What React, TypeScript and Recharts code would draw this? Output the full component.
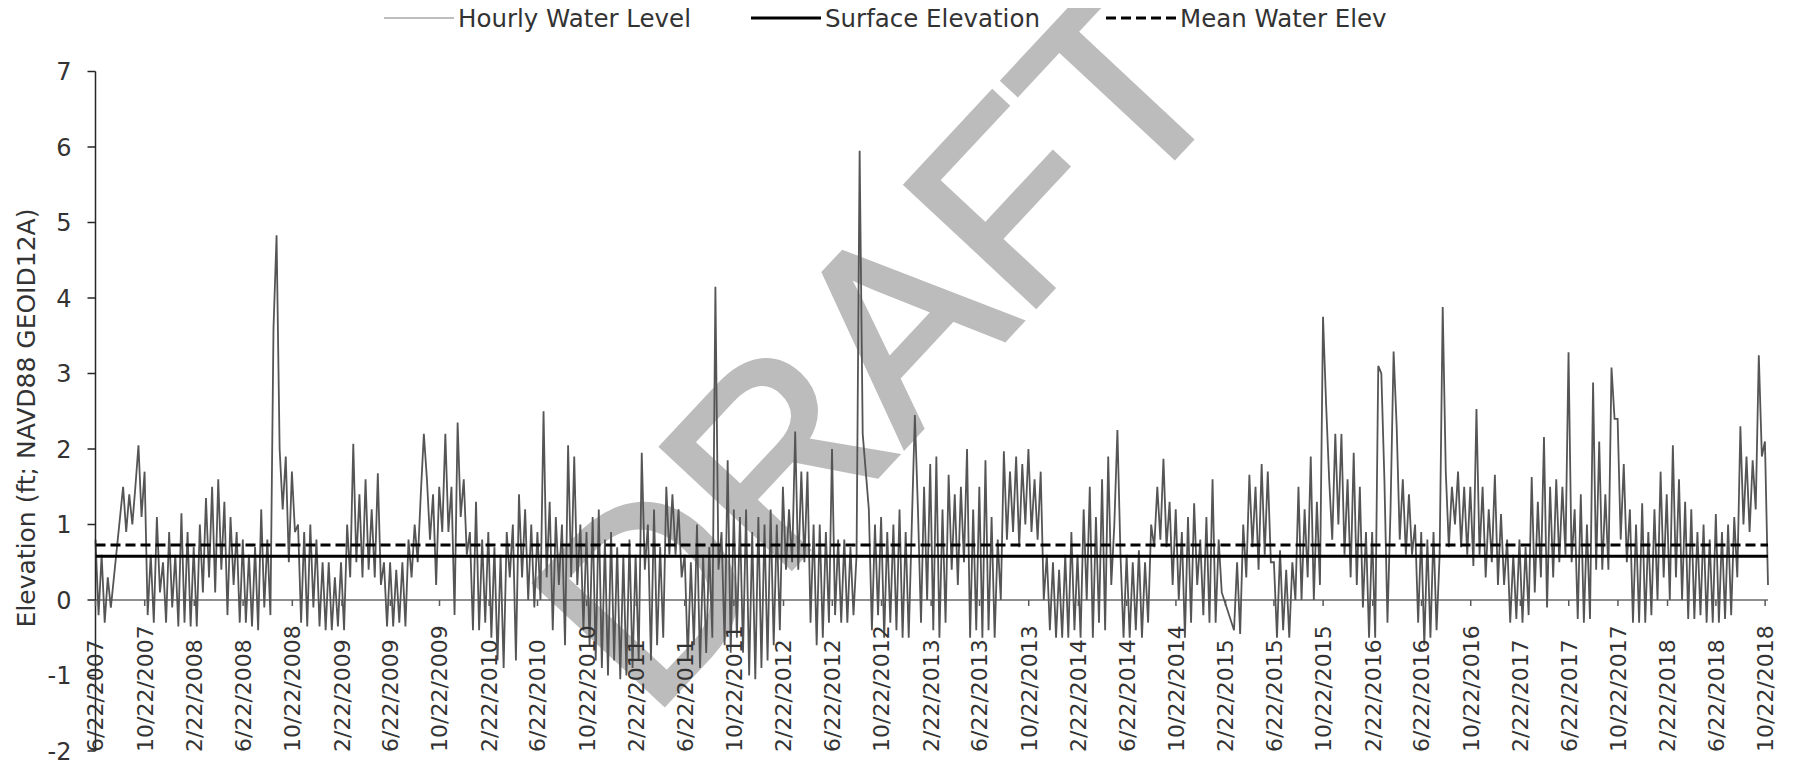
import { LineChart, Line, XAxis, YAxis, ReferenceLine, Customized } from "recharts";

// hourly water level: 4 samples per month starting 6/22/2007
// (null = no record; the line is drawn straight across those gaps)
const level2007 = [
  0.8, -0.2, 0.6, -0.3, 0.3, -0.1, null, null, null, 1.5, 0.9, 1.4,
  1.0, 1.5, 2.05, 1.1, 1.7, -0.2, 0.6, -0.3, 1.1, 0.1, 0.5, -0.3,
  0.9, -0.1, 0.6, -0.35, 1.15, -0.3, 0.9, -0.35, 0.7, -0.35, 1.0, 0.1,
  1.35, 0.3, 1.5, 0.1, 1.6, 0.4, 1.3, -0.2, 1.1, 0.2, 0.9, -0.3,
];
const level2008 = [
  0.8, -0.3, 0.6, -0.35, 0.7, -0.4, 1.2, -0.1, 0.8, -0.2, 3.6, 4.83,
  2.0, 1.2, 1.9, 0.5, 1.7, 0.9, 1.0, -0.3, 0.9, -0.35, 1.0, -0.1,
  0.8, -0.35, 0.5, -0.4, 0.5, -0.4, 0.3, -0.35, 0.5, -0.4, 1.0, 0.3,
  2.07, 0.5, 1.4, 0.3, 1.6, 0.4, 1.2, 0.3, 1.68, 0.2, 0.5, -0.35,
];
const level2009 = [
  0.5, -0.35, 0.4, -0.3, 0.5, -0.35, 0.8, 0.3, 1.0, 0.5, 1.4, 2.2,
  1.6, 0.8, 1.4, 0.2, 1.5, 0.9, 2.2, 0.9, 1.5, -0.2, 2.35, 1.1,
  1.6, 0.6, 0.9, -0.4, 1.3, -0.4, 0.8, -0.3, 0.9, -0.5, 0.7, -0.8,
  0.6, -0.9, 0.9, 0.3, 1.0, -0.8, 1.4, 0.3, 1.2, 0.0, 1.0, -0.1,
];
const level2010 = [
  0.9, 0.0, 2.5, 0.3, 1.3, -0.4, 1.1, 0.2, 1.0, -0.6, 2.05, 0.3,
  1.9, 0.2, 1.0, -0.4, 0.9, -0.6, 1.1, -0.8, 1.2, -0.9, 0.8, -1.0,
  0.9, -0.8, 0.7, -1.05, 0.6, -1.0, 0.8, -0.9, 0.6, -0.8, 1.95, 0.4,
  1.0, -0.8, 1.2, -0.6, 0.7, -0.5, 1.5, 0.6, 1.4, 0.6, 1.2, 0.3,
];
const level2011 = [
  0.6, -0.8, 0.5, -0.6, 1.0, -0.9, 0.6, -0.7, 0.7, -0.5, 4.15, 0.4,
  0.9, -0.6, 1.85, -0.7, 1.2, -0.5, 1.1, -0.7, 1.2, -1.0, 0.9, -1.05,
  1.1, -0.9, 1.0, -0.8, 1.2, -0.6, 1.0, -0.4, 1.5, 0.4, 1.2, 0.5,
  2.23, 0.4, 1.7, 0.5, 1.7, -0.3, 1.0, -0.6, 1.0, -0.5, 0.9, -0.3,
];
const level2012 = [
  2.0, -0.2, 0.8, -0.3, 0.8, -0.3, 0.7, -0.2, 0.6, 5.95, 2.2, 1.7,
  1.2, -0.4, 1.0, -0.2, 1.1, -0.5, 0.9, -0.3, 1.0, -0.4, 1.2, -0.5,
  0.9, -0.5, 1.0, 2.45, 1.2, -0.3, 1.5, 0.0, 1.8, -0.4, 1.9, -0.5,
  1.2, -0.3, 1.66, 0.4, 1.4, 0.2, 1.5, 0.5, 2.0, -0.5, 1.2, -0.4,
];
const level2013 = [
  1.5, -0.5, 1.85, -0.4, 1.1, -0.5, 0.8, 0.0, 1.97, 0.8, 1.7, 0.9,
  1.9, 0.7, 1.8, 1.0, 2.0, 0.9, 1.6, 0.8, 1.7, 0.0, 0.6, -0.4,
  0.5, -0.5, 0.4, -0.5, 0.6, -0.5, 0.9, -0.4, 0.6, -0.5, 1.2, 0.0,
  1.5, -0.5, 1.1, -0.3, 1.6, -0.4, 1.9, 0.2, 1.0, 2.25, 0.6, -0.5,
];
const level2014 = [
  0.6, -0.5, 0.5, -0.4, 0.66, -0.5, 0.5, -0.3, 1.0, 0.7, 1.5, 0.8,
  1.87, 0.7, 1.3, 0.2, 1.2, 0.0, 0.9, -0.5, 1.1, -0.3, 1.28, 0.2,
  0.8, -0.2, 1.1, -0.3, 1.6, -0.3, 0.8, 0.1, null, null, null, -0.4,
  0.5, -0.45, 1.0, 0.3, 1.66, 0.7, 1.5, 0.4, 1.8, 0.6, 1.7, 0.5,
];
const level2015 = [
  0.5, -0.5, 0.66, -0.4, 0.4, -0.5, 0.5, 0.0, 1.5, 0.0, 1.2, 0.3,
  1.9, 0.0, 1.3, 0.2, 3.75, 2.6, 1.6, 0.8, 2.2, 1.0, 2.2, 0.6,
  1.6, 0.3, 1.95, 0.2, 1.5, -0.1, 0.9, -0.5, 0.9, -0.5, 3.1, 3.0,
  1.6, -0.3, 1.2, 3.29, 2.3, 0.8, 1.6, 0.6, 1.4, 0.6, 1.0, -0.3,
];
const level2016 = [
  0.9, -0.6, 0.8, -0.5, 0.9, -0.4, 0.6, 3.88, 1.7, 0.7, 1.5, 1.0,
  1.7, 0.7, 1.5, 0.6, 1.5, 0.45, 2.53, 0.6, 1.5, 0.3, 1.2, 0.5,
  1.66, 0.2, 1.14, 0.2, 0.8, -0.3, 0.6, -0.25, 0.8, -0.3, 0.7, -0.2,
  1.63, 0.1, 1.3, 0.3, 2.16, -0.1, 1.5, 0.3, 1.6, 0.5, 1.5, 0.6,
];
const level2017 = [
  3.28, 0.5, 1.2, -0.25, 1.4, -0.3, 1.0, -0.25, 2.88, 0.4, 2.1, 0.4,
  1.4, 0.4, 3.08, 2.4, 2.4, 0.8, 1.8, 0.5, 1.2, -0.3, 1.0, -0.3,
  1.28, -0.3, 0.9, -0.2, 1.2, 0.0, 1.7, 0.3, 1.4, 0.0, 2.05, 0.3,
  1.6, 0.0, 1.3, -0.25, 1.2, -0.25, 0.9, -0.2, 1.0, -0.3, 0.8, -0.3,
];
const level2018 = [
  1.14, -0.3, 0.9, -0.25, 1.0, -0.2, 1.1, 0.3, 2.3, 1.0, 1.9, 0.9,
  1.85, 1.2, 3.24, 1.9, 2.1, 0.2,
];

const surfaceElevation = 0.58;
const meanWaterElev = 0.73;

const yTicks = [-2, -1, 0, 1, 2, 3, 4, 5, 6, 7];
const Y_MIN = -2;
const Y_MAX = 7;

const START = Date.UTC(2007, 5, 22);
const STEP = (365.25 / 48) * 86400000;

const levels = [
  ...level2007, ...level2008, ...level2009, ...level2010, ...level2011, ...level2012,
  ...level2013, ...level2014, ...level2015, ...level2016, ...level2017, ...level2018,
];

const rows = levels.map((v, i) => ({
  t: START + i * STEP,
  level: v,
  surface: surfaceElevation,
  mean: meanWaterElev,
}));

// axis ticks every 4 months, 6/22/2007 .. 10/22/2018
const xTicks: number[] = [];
for (let k = 0; k <= 34; k++) {
  xTicks.push(Date.UTC(2007, 5 + k * 4, 22));
}
const fmtDate = (t: number) => {
  const d = new Date(t);
  return `${d.getUTCMonth() + 1}/${d.getUTCDate()}/${d.getUTCFullYear()}`;
};

const FONT = "DejaVu Sans";
const W = 1797;
const H = 768;
const MARGIN = { top: 71.5, right: 29, bottom: 1, left: 35.5 };
const Y_AXIS_W = 60;
const X_AXIS_H = 16;
const PLOT_BOTTOM = H - MARGIN.bottom - X_AXIS_H;
const PLOT_H = PLOT_BOTTOM - MARGIN.top;

const DateTick = (props: any) => {
  const { x, payload } = props;
  const zeroY = PLOT_BOTTOM - (PLOT_H * (0 - Y_MIN)) / (Y_MAX - Y_MIN);
  const ly = PLOT_BOTTOM + 1;
  return (
    <g>
      <line x1={x} x2={x} y1={zeroY} y2={zeroY + 6} stroke="#595959" strokeWidth={1.5} />
      <text
        x={x}
        y={ly}
        dy="0.36em"
        transform={`rotate(-90, ${x}, ${ly})`}
        textAnchor="start"
        fontSize={22}
        fontFamily={FONT}
        fill="#333"
      >
        {fmtDate(payload.value)}
      </text>
    </g>
  );
};

const legendItems = [
  { label: "Hourly Water Level", x: 384, stroke: "#7f7f7f", width: 1.2, dash: undefined },
  { label: "Surface Elevation", x: 751, stroke: "#000", width: 3, dash: undefined },
  { label: "Mean Water Elev", x: 1106, stroke: "#000", width: 3, dash: "10 5" },
];

const Decorations = () => (
  <g>
    {legendItems.map((it) => (
      <g key={it.label}>
        <line
          x1={it.x}
          x2={it.x + 70}
          y1={18}
          y2={18}
          stroke={it.stroke}
          strokeWidth={it.width}
          strokeDasharray={it.dash}
        />
        <text x={it.x + 74} y={18} dy="0.36em" fontSize={24.5} fontFamily={FONT} fill="#333">
          {it.label}
        </text>
      </g>
    ))}
    <text
      x={26}
      y={418}
      dy="0.36em"
      transform="rotate(-90, 26, 418)"
      textAnchor="middle"
      fontSize={25}
      fontFamily={FONT}
      fill="#333"
    >
      Elevation (ft; NAVD88 GEOID12A)
    </text>
  </g>
);

const Watermark = () => (
  <text
    x={878}
    y={344}
    transform="rotate(-47, 878, 344)"
    textAnchor="middle"
    dominantBaseline="central"
    fontSize={258}
    fontFamily="Liberation Sans"
    fill="#8c8c8c"
    stroke="#8c8c8c"
    strokeWidth={5}
    strokeLinejoin="miter"
    opacity={0.58}
  >
    DRAFT
  </text>
);

export default function App() {
  return (
    <div style={{ margin: -8 }}>
      <LineChart width={W} height={H} data={rows} margin={MARGIN}>
        <XAxis
          dataKey="t"
          type="number"
          domain={["dataMin", "dataMax"]}
          ticks={xTicks}
          interval={0}
          tick={<DateTick />}
          tickLine={false}
          axisLine={false}
          tickSize={0}
          tickMargin={0}
          height={X_AXIS_H}
        />
        <YAxis
          domain={[Y_MIN, Y_MAX]}
          ticks={yTicks}
          interval={0}
          width={Y_AXIS_W}
          tickSize={8}
          tickMargin={16}
          axisLine={{ stroke: "#262626", strokeWidth: 1.5 }}
          tickLine={{ stroke: "#262626", strokeWidth: 1.5 }}
          tick={{ fontSize: 24, fill: "#333", fontFamily: FONT }}
        />
        <ReferenceLine y={0} stroke="#6b6b6b" strokeWidth={1.5} />
        <Line
          dataKey="level"
          stroke="#555"
          strokeWidth={1.8}
          dot={false}
          connectNulls
          isAnimationActive={false}
        />
        <Line
          dataKey="surface"
          stroke="#000"
          strokeWidth={3}
          dot={false}
          isAnimationActive={false}
        />
        <Line
          dataKey="mean"
          stroke="#000"
          strokeWidth={3}
          strokeDasharray="10 5"
          dot={false}
          isAnimationActive={false}
        />
        <Customized component={Decorations} />
        <Customized component={Watermark} />
      </LineChart>
    </div>
  );
}
